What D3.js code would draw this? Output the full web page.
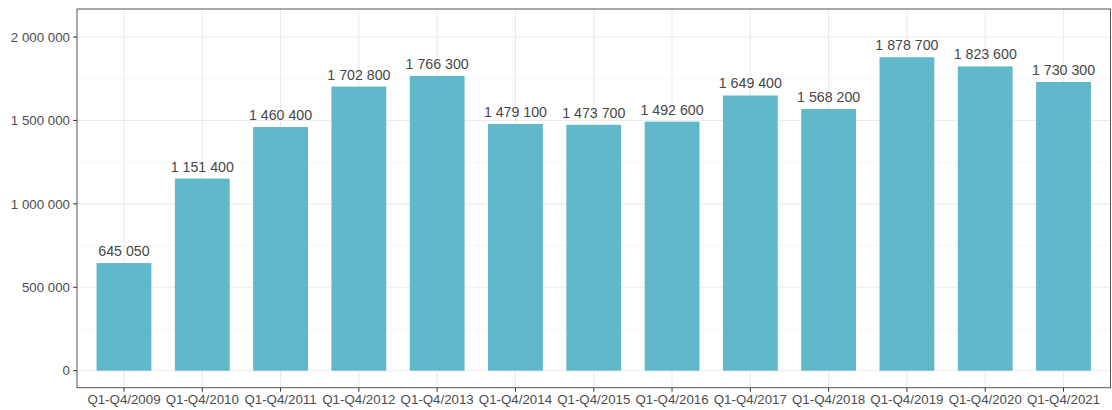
<!DOCTYPE html>
<html><head><meta charset="utf-8">
<script src="https://cdn.jsdelivr.net/npm/d3@7"></script>
<style>body{margin:0;background:#fff}svg{display:block;font-family:"Liberation Sans",Arial,sans-serif}</style>
</head><body><svg id="c" width="1112" height="410"></svg>
<script>
const categories = ["Q1-Q4/2009","Q1-Q4/2010","Q1-Q4/2011","Q1-Q4/2012","Q1-Q4/2013","Q1-Q4/2014","Q1-Q4/2015","Q1-Q4/2016","Q1-Q4/2017","Q1-Q4/2018","Q1-Q4/2019","Q1-Q4/2020","Q1-Q4/2021"];
const values = [645050,1151400,1460400,1702800,1766300,1479100,1473700,1492600,1649400,1568200,1878700,1823600,1730300];
const yTicks = [0,500000,1000000,1500000,2000000];
const yMinor = [250000,750000,1250000,1750000];

const fmt = v => d3.format(",")(v).replace(/,/g," ");
const svg = d3.select("#c");
const L=77,R=1110.5,T=9,B=387.7;
const x = d3.scaleLinear().domain([-0.6, categories.length-1+0.6]).range([L,R]);
const y = d3.scaleLinear().domain([0,2000000]).range([370.7,37]);
const bw = 0.7;

const g = svg.append("g");
g.selectAll("line.minor").data(yMinor).join("line").attr("x1",L).attr("x2",R)
 .attr("y1",d=>y(d)).attr("y2",d=>y(d)).attr("stroke","#f2f2f2").attr("stroke-width",0.6);
g.selectAll("line.major").data(yTicks).join("line").attr("x1",L).attr("x2",R)
 .attr("y1",d=>y(d)).attr("y2",d=>y(d)).attr("stroke","#ebebeb").attr("stroke-width",1.1);
g.selectAll("line.vx").data(categories).join("line").attr("y1",T).attr("y2",B)
 .attr("x1",(d,i)=>x(i)).attr("x2",(d,i)=>x(i)).attr("stroke","#ebebeb").attr("stroke-width",1.1);

g.selectAll("rect.bar").data(values).join("rect")
 .attr("x",(d,i)=>x(i-bw/2)).attr("width",(d,i)=>x(i+bw/2)-x(i-bw/2))
 .attr("y",d=>y(d)).attr("height",d=>y(0)-y(d)).attr("fill","#60b8ca");

g.selectAll("text.lab").data(values).join("text")
 .attr("x",(d,i)=>x(i)).attr("y",d=>y(d)-7).attr("text-anchor","middle")
 .attr("font-size","14.2px").attr("fill","#474747").text(fmt);

svg.append("rect").attr("x",L).attr("y",T).attr("width",R-L).attr("height",B-T)
 .attr("fill","none").attr("stroke","#555").attr("stroke-width",1);

// y axis
svg.selectAll("line.yt").data(yTicks).join("line").attr("x1",L-4).attr("x2",L)
 .attr("y1",d=>y(d)).attr("y2",d=>y(d)).attr("stroke","#333");
svg.selectAll("text.yl").data(yTicks).join("text").attr("x",L-7).attr("y",d=>y(d)+4.7)
 .attr("text-anchor","end").attr("font-size","13.3px").attr("fill","#4d4d4d").text(fmt);
// x axis
svg.selectAll("line.xt").data(categories).join("line").attr("y1",B).attr("y2",B+4)
 .attr("x1",(d,i)=>x(i)).attr("x2",(d,i)=>x(i)).attr("stroke","#333");
svg.selectAll("text.xl").data(categories).join("text").attr("x",(d,i)=>x(i)).attr("y",B+16)
 .attr("text-anchor","middle").attr("font-size","13.3px").attr("fill","#4d4d4d").text(d=>d);
</script></body></html>
